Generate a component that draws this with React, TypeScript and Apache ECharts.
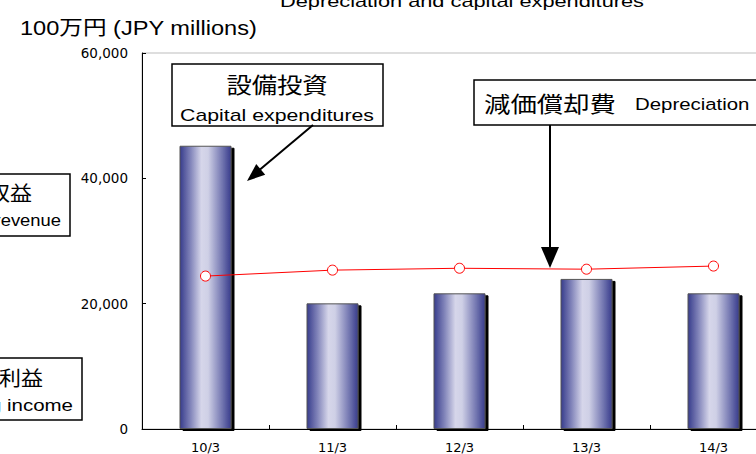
import React, { useEffect, useRef } from "react";
import * as echarts from "echarts";

const TITLE = "Depreciation and capital expenditures";
const UNIT_LABEL = "100万円 (JPY millions)";
const categories = ["10/3", "11/3", "12/3", "13/3", "14/3"];
const capitalExpenditures = [45200, 20050, 21650, 23950, 21650];
const depreciation = [24400, 25350, 25650, 25500, 26000];
const yTicks = { min: 0, max: 60000, interval: 20000 };

const LATIN = 'Arial, "Liberation Sans", "Noto Sans CJK JP", sans-serif';
const CJK = '"Noto Sans CJK JP", sans-serif';

function txt(text: string, x: number, y: number, fontSize: number, align: string, scaleX = 1, family = LATIN) {
  return {
    type: "text",
    x,
    y,
    scaleX,
    z: 100,
    style: {
      text,
      fontSize,
      fontFamily: family,
      fill: "#000",
      align,
      textAlign: align,
      verticalAlign: "middle",
      textVerticalAlign: "middle",
    },
  };
}

function box(x: number, y: number, w: number, h: number) {
  return {
    type: "rect",
    z: 90,
    shape: { x, y, width: w, height: h },
    style: { fill: "#fff", stroke: "#000", lineWidth: 1.5 },
  };
}

export default function App() {
  const ref = useRef<HTMLDivElement>(null);
  useEffect(() => {
    const chart = echarts.init(ref.current!, undefined, { renderer: "svg" });
    const barGradient = new echarts.graphic.LinearGradient(0, 0, 1, 0, [
      { offset: 0, color: "#383c8c" },
      { offset: 0.2, color: "#7f82b8" },
      { offset: 0.42, color: "#d6d6ea" },
      { offset: 0.55, color: "#cfd0e6" },
      { offset: 0.8, color: "#7c7fb6" },
      { offset: 1, color: "#383c8c" },
    ]);
    chart.setOption({
      animation: false,
      backgroundColor: "#fff",
      grid: {
        left: 142,
        top: 53,
        width: 635,
        height: 376,
        show: true,
        borderColor: "#bdbdbd",
        borderWidth: 1,
        backgroundColor: "transparent",
      },
      xAxis: {
        type: "category",
        data: categories,
        boundaryGap: true,
        axisLine: { lineStyle: { color: "#000", width: 1 } },
        axisTick: { show: true, inside: true, length: 4, lineStyle: { color: "#000" } },
        axisLabel: { margin: 12, fontSize: 13, fontFamily: '"DejaVu Sans", sans-serif', color: "#000" },
        splitLine: { show: false },
      },
      yAxis: {
        type: "value",
        min: yTicks.min,
        max: yTicks.max,
        interval: yTicks.interval,
        axisLine: { show: true, lineStyle: { color: "#000", width: 1 } },
        axisTick: { show: true, inside: true, length: 4, lineStyle: { color: "#000" } },
        axisLabel: {
          margin: 14,
          fontSize: 13.5,
          fontFamily: '"DejaVu Sans", sans-serif',
          color: "#000",
          formatter: (v: number) => v.toLocaleString("en-US"),
        },
        splitLine: { show: false },
      },
      series: [
        {
          name: "Capital expenditures",
          type: "bar",
          data: capitalExpenditures,
          barWidth: 52,
          z: 2,
          itemStyle: {
            color: barGradient,
            borderColor: "#555",
            borderWidth: 1,
            shadowColor: "#000",
            shadowOffsetX: 3,
            shadowOffsetY: 2,
            shadowBlur: 0,
          },
        },
        {
          name: "Depreciation",
          type: "line",
          data: depreciation,
          z: 5,
          symbol: "circle",
          symbolSize: 10,
          lineStyle: { color: "#ff0000", width: 1 },
          itemStyle: { color: "#fff", borderColor: "#ff0000", borderWidth: 1 },
        },
      ],
      graphic: [
        txt(TITLE, 462, 1, 17, "center", 1.28),
        txt(UNIT_LABEL, 20, 28, 20, "left", 1.18),
        // Capital expenditures box
        box(172, 64, 211, 62),
        txt("設備投資", 277, 84, 22, "center", 1.15, CJK),
        txt("Capital expenditures", 277, 115, 16, "center", 1.33),
        { type: "line", z: 95, shape: { x1: 313, y1: 125, x2: 260, y2: 169.5 }, style: { stroke: "#000", lineWidth: 2 } },
        {
          type: "polygon",
          z: 95,
          shape: { points: [[247, 181], [265.2, 174.7], [256.2, 164.1]] },
          style: { fill: "#000" },
        },
        // Depreciation box
        box(474, 80, 320, 45),
        txt("減価償却費", 484, 102, 22, "left", 1.2, CJK),
        txt("Depreciation", 635, 104, 17, "left", 1.2),
        { type: "line", z: 95, shape: { x1: 550, y1: 125, x2: 550, y2: 250 }, style: { stroke: "#000", lineWidth: 2 } },
        {
          type: "polygon",
          z: 95,
          shape: { points: [[550, 268], [541, 247], [559, 247]] },
          style: { fill: "#000" },
        },
        // Left boxes (cut off at the left edge, as in the reference)
        box(-120, 174, 190, 62),
        txt("営業収益", 32, 192, 20, "right", 1.1, CJK),
        txt("Operating revenue", 61, 220, 16, "right", 1.15),
        box(-120, 358, 202, 62),
        txt("営業利益", 43, 377, 20, "right", 1.1, CJK),
        txt("Operating income", 73, 405, 16, "right", 1.28),
      ],
    });
    return () => chart.dispose();
  }, []);
  return (
    <div style={{ position: "absolute", left: 0, top: 0, width: 756, height: 454, overflow: "hidden", background: "#fff" }}>
      <div ref={ref} style={{ position: "absolute", left: 0, top: 0, width: 800, height: 454 }} />
    </div>
  );
}
